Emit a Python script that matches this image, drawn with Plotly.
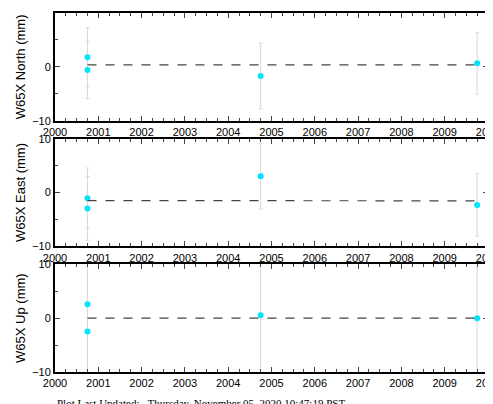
import plotly.graph_objects as go
from plotly.subplots import make_subplots

t = [2000.75, 2000.75, 2004.75, 2009.75]
north = [1.8, -0.6, -1.7, 0.65]
north_err = [5.5, 5.3, 6.1, 5.7]
east = [-1.05, -2.95, 3.0, -2.3]
east_err = [5.6, 5.9, 6.05, 5.8]
up = [2.6, -2.5, 0.55, 0.0]
up_err = [16, 16, 16, 16]
fit_north = [0.35, 0.35]
fit_east = [-1.5, -1.55]
fit_up = [0.0, 0.0]
fit_t = [2000.75, 2009.75]

fig = make_subplots(rows=3, cols=1, vertical_spacing=0.05)
panels = [(north, north_err, fit_north, 'W65X North (mm)'),
          (east, east_err, fit_east, 'W65X East (mm)'),
          (up, up_err, fit_up, 'W65X Up (mm)')]
for i, (y, e, fit, title) in enumerate(panels, start=1):
    fig.add_trace(go.Scatter(x=t, y=y, mode='markers',
                             marker=dict(color='#00e5ff', size=6),
                             error_y=dict(type='data', array=e, color='#d8d8d8',
                                          thickness=1, width=2)),
                  row=i, col=1)
    fig.add_trace(go.Scatter(x=fit_t, y=fit, mode='lines',
                             line=dict(color='#444', width=1.2, dash='dash')),
                  row=i, col=1)
    fig.update_xaxes(range=[2000, 2010], dtick=1, minor=dict(dtick=0.25, ticks='inside', ticklen=3),
                     ticks='inside', ticklen=5, mirror='allticks', showline=True,
                     linecolor='black', linewidth=2, showgrid=False, zeroline=False,
                     automargin=False, row=i, col=1)
    fig.update_yaxes(range=[-10, 10], dtick=10, minor=dict(dtick=5, ticks='inside', ticklen=3),
                     ticks='inside', ticklen=5, mirror='allticks', showline=True,
                     linecolor='black', linewidth=2, showgrid=False, zeroline=False,
                     automargin=False, title=dict(text=title, standoff=4), row=i, col=1)

fig.add_annotation(text='Plot Last Updated:   Thursday, November 05, 2020 10:47:19 PST',
                   xref='paper', yref='paper', x=0.0, y=-0.086, showarrow=False,
                   xanchor='left', yanchor='middle',
                   font=dict(family='Liberation Serif', size=11, color='black'))
fig.update_layout(width=493, height=404, showlegend=False,
                  plot_bgcolor='white', paper_bgcolor='white',
                  margin=dict(l=47, r=13, t=5, b=40),
                  font=dict(family='Liberation Sans, Arial', size=11, color='black'))
fig.write_html("out.html")
